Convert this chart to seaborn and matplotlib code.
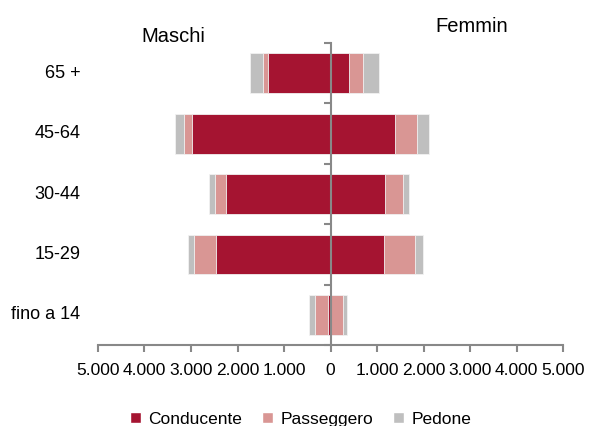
import pandas as pd
import seaborn as sns
import matplotlib.pyplot as plt
from matplotlib.patches import Patch
from matplotlib.ticker import FuncFormatter

sns.set_style("white")
plt.rcParams["font.family"] = ["Liberation Sans", "DejaVu Sans"]
plt.rcParams["text.color"] = "black"

ages = ["65 +", "45-64", "30-44", "15-29", "fino a 14"]
maschi_conducente = [1355, 2970, 2240, 2470, 65]
maschi_passeggero = [100, 180, 235, 475, 280]
maschi_pedone = [285, 195, 135, 125, 115]
femmine_conducente = [390, 1375, 1175, 1140, 15]
femmine_passeggero = [300, 480, 380, 665, 245]
femmine_pedone = [360, 255, 140, 190, 85]

layers = ["Conducente", "Passeggero", "Pedone"]
colors = {"Conducente": "#A51431", "Passeggero": "#D99694", "Pedone": "#BFBFBF"}

m = pd.DataFrame({"Conducente": maschi_conducente, "Passeggero": maschi_passeggero,
                  "Pedone": maschi_pedone}, index=ages)
f = pd.DataFrame({"Conducente": femmine_conducente, "Passeggero": femmine_passeggero,
                  "Pedone": femmine_pedone}, index=ages)
m_cum = m[layers].cumsum(axis=1)
f_cum = f[layers].cumsum(axis=1)

fig = plt.figure(figsize=(6.01, 4.26), dpi=100)
ax = fig.add_axes([0.163, 0.190, 0.774, 0.709])

# draw outer (cumulative) layers first so inner ones sit on top
for layer in reversed(layers):
    df = pd.concat([
        pd.DataFrame({"eta": ages, "sesso": "M", "valore": -m_cum[layer].values}),
        pd.DataFrame({"eta": ages, "sesso": "F", "valore": f_cum[layer].values}),
    ])
    sns.barplot(data=df, x="valore", y="eta", hue="sesso", order=ages, orient="h",
                dodge=False, palette={"M": colors[layer], "F": colors[layer]},
                saturation=1, width=0.66, edgecolor="#f2f2f2", linewidth=0.6,
                legend=False, ax=ax)

ax.set_xlim(-5000, 5000)
ax.set_ylim(4.5, -0.5)
ax.set_xlabel("")
ax.set_ylabel("")

for s in ["top", "right"]:
    ax.spines[s].set_visible(False)
ax.spines["left"].set_position(("data", 0))
for s in ["left", "bottom"]:
    ax.spines[s].set_color("#888888")
    ax.spines[s].set_linewidth(1.5)

ax.set_xticks(range(-5000, 5001, 1000))
ax.xaxis.set_major_formatter(FuncFormatter(lambda v, p: f"{abs(int(v)):,}".replace(",", ".")))
ax.tick_params(axis="x", direction="out", length=5, width=1.5, color="#888888",
               labelcolor="black", labelsize=12.5, pad=8, bottom=True)
ax.set_yticks([i - 0.5 for i in range(len(ages) + 1)])
ax.set_yticklabels([])
ax.tick_params(axis="y", direction="out", length=5, width=1.5, color="#888888", left=True)

for i, a in enumerate(ages):
    ax.text(-0.038, i, a, transform=ax.get_yaxis_transform(), ha="right", va="center",
            fontsize=13)

fig.text(173 / 601, 1 - 36 / 426, "Maschi", ha="center", va="center", fontsize=14.5)
fig.text(472 / 601, 1 - 26 / 426, "Femmin", ha="center", va="center", fontsize=14.5)

handles = [Patch(facecolor=colors[l], label=l) for l in layers]
fig.legend(handles=handles, loc="center", bbox_to_anchor=(0.5, 0.016), ncol=3,
           frameon=False, fontsize=12.5, handlelength=0.65, handleheight=0.65,
           handletextpad=0.45, columnspacing=1.1)

fig.savefig("out.png", dpi=100)
